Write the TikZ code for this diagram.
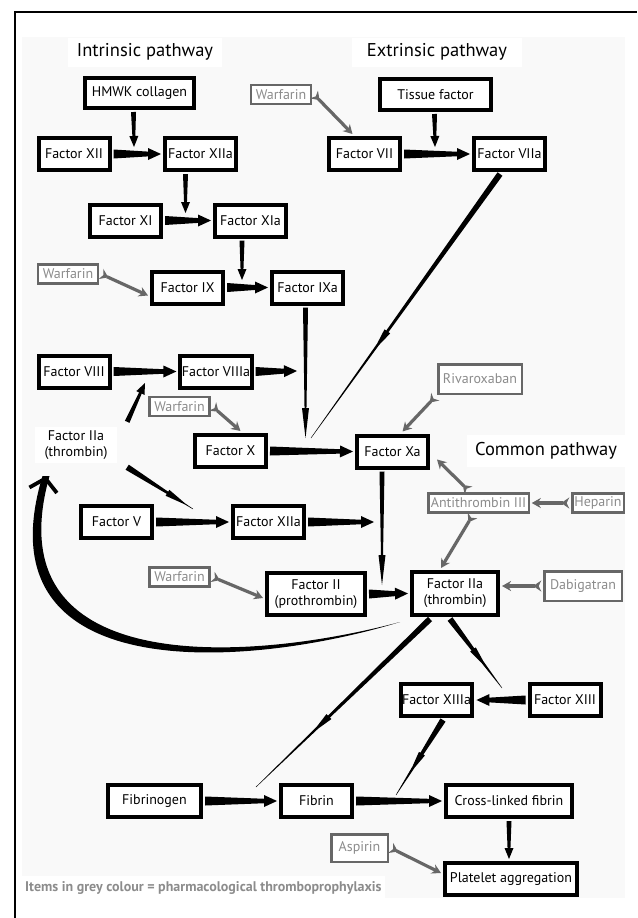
\documentclass[tikz,border=0pt]{standalone}
\usepackage{fontspec}
\setmainfont{PT Sans}
\usetikzlibrary{arrows.meta, positioning, calc, backgrounds}

\definecolor{drugline}{HTML}{676767}
\definecolor{drugtext}{HTML}{8C8C8C}
\definecolor{paper}{HTML}{F9F9F9}

\begin{document}
\begin{tikzpicture}[
    x=1pt, y=-1pt,
    box/.style={rectangle, draw, line width=4pt, fill=white, minimum width=71pt, minimum height=32pt, inner sep=1.5pt, outer sep=4pt, align=center, font=\fontsize{14pt}{16pt}\selectfont},
    drug/.style={rectangle, draw=drugline, line width=2.5pt, fill=white, text=drugtext, minimum width=60pt, minimum height=19pt, inner sep=1.2pt, outer sep=3pt, font=\fontsize{14pt}{16pt}\selectfont},
    title/.style={fill=white, font=\fontsize{18.5pt}{20pt}\selectfont, inner sep=5pt},
    taper/.style n args={5}{to path={
        let \p1=(\tikztostart), \p2=(\tikztotarget), \n1={atan2(\y2-\y1,\x2-\x1)} in
        ($(\p1)+({\n1+90}:{#1/2})$) -- ($(\p2)+({\n1+180}:{#4*0.5*(#3==1)})+({\n1+90}:{#2/2})$) -- ($(\p2)+({\n1+180}:{#4*0.5*(#3==1)})+({\n1-90}:{#2/2})$) -- ($(\p1)+({\n1-90}:{#1/2})$) -- cycle
        ($(\p1)!#3!(\p2)$) -- ($(\p1)!#3!(\p2)+({\n1+180}:{#4})+({\n1-90}:{#5/2})$) -- ($(\p1)!#3!(\p2)+({\n1+180}:{#4})+({\n1+90}:{#5/2})$) -- cycle}},
    fat/.style={taper={9pt}{4pt}{1}{13pt}{12pt}},
    slim/.style={taper={5pt}{2.5pt}{1}{11pt}{9pt}},
    longarrow/.style={taper={5pt}{1.5pt}{1}{30pt}{7pt}},
    midhead/.style={taper={6pt}{0.4pt}{#1}{24pt}{7pt}},
    inhib/.style={draw=drugline, line width=3.2pt, {Stealth[reversed, length=8pt, width=11pt]}-{Stealth[length=9pt, width=10pt]}}
]
\useasboundingbox (0,0) rectangle (637,918);

% Titles
\node[title, minimum width=154pt, minimum height=29pt] (intrinsic) at (145,52) {Intrinsic pathway};
\node[title, minimum width=170pt, minimum height=29pt] (extrinsic) at (437,52) {Extrinsic pathway};
\node[title, minimum width=158pt, minimum height=32pt] (common) at (546,451) {Common pathway};

% Intrinsic pathway
\node[box, minimum width=109pt, minimum height=30pt] (hmwk) at (139.5,93) {HMWK collagen};
\node[box] (f12) at (74,154) {Factor XII};
\node[box] (f12a) at (200.5,154) {Factor XIIa};
\node[box] (f11) at (125.5,220.5) {Factor XI};
\node[box] (f11a) at (250.5,220.5) {Factor XIa};
\node[box] (f9) at (187.5,287.5) {Factor IX};
\node[box] (f9a) at (307.5,287.5) {Factor IXa};
\node[box] (f8) at (74,371.5) {Factor VIII};
\node[box] (f8a) at (216,371.5) {Factor VIIIa};

% Extrinsic pathway
\node[box, minimum width=111pt, minimum height=31pt] (tf) at (435.5,94.5) {Tissue factor};
\node[box] (f7) at (364.5,154) {Factor VII};
\node[box] (f7a) at (509.5,154) {Factor VIIa};

% Common pathway
\node[fill=white, align=center, minimum width=82pt, minimum height=36pt, inner sep=1pt, font=\fontsize{14pt}{16pt}\selectfont] (thr1) at (76,445) {Factor IIa\\(thrombin)};
\node[box] (f10) at (230.5,451) {Factor X};
\node[box] (f10a) at (392.5,451.5) {Factor Xa};
\node[box] (f5) at (116.5,522) {Factor V};
\node[box] (f12b) at (268.5,522) {Factor XIIa};
\node[box, minimum width=98pt, minimum height=42pt] (f2) at (316,594) {Factor II\\(prothrombin)};
\node[box, minimum width=86pt, minimum height=43pt] (thr) at (455,593.5) {Factor IIa\\(thrombin)};
\node[box] (f13a) at (436.5,700) {Factor XIIIa};
\node[box] (f13) at (565,700) {Factor XIII};
\node[box, minimum width=93pt] (fgen) at (154.5,801) {Fibrinogen};
\node[box] (fib) at (316.5,801) {Fibrin};
\node[box, minimum width=126pt] (xfib) at (509,801) {Cross-linked fibrin};
\node[box, minimum width=132pt] (plt) at (511,879) {Platelet aggregation};

% Drugs (grey)
\node[drug] (warf1) at (281,94.5) {Warfarin};
\node[drug] (warf2) at (68,274) {Warfarin};
\node[drug] (warf3) at (179.5,406.5) {Warfarin};
\node[drug] (warf4) at (179.5,577) {Warfarin};
\node[drug, minimum width=83.5pt, minimum height=29.5pt] (riva) at (480,379) {Rivaroxaban};
\node[drug, minimum width=100.5pt] (at3) at (478.5,503) {Antithrombin III};
\node[drug, minimum width=51.5pt, right=37.5pt of at3] (hep) {Heparin};
\node[drug, minimum width=77.5pt, minimum height=29.5pt] (dabi) at (583,586) {Dabigatran};
\node[drug, minimum width=56.5pt, minimum height=27.5pt] (asp) at (359.5,848) {Aspirin};

\node[anchor=west, fill=white, text=drugtext, minimum height=24pt, inner sep=3pt, font=\bfseries\fontsize{14pt}{16pt}\selectfont] (legend) at (22,888) {Items in grey colour = pharmacological thromboprophylaxis};

% Free ends of arrows
\coordinate (t12) at (134,147);
\coordinate (t7) at (435,147);
\coordinate (t11) at (185.5,213);
\coordinate (t9) at (242,280);
\coordinate (t8) at (297,371);
\coordinate (t8b) at (145,383);
\coordinate (jx) at (311,438);
\coordinate (t5) at (193,509);
\coordinate (t12b) at (374,522);
\coordinate (jt) at (382,585);
\coordinate (tfib) at (256,787);
\coordinate (t13) at (502,688);
\coordinate (txf) at (396,795);
\coordinate (loopA) at (400,622);
\coordinate (loopB) at (46,476);

% Intrinsic connections
\fill ([xshift=-6pt]hmwk.south) to[slim] (t12);
\fill (f12.east) to[fat] (f12a.west);
\fill ([xshift=-15pt]f12a.south) to[slim] (t11);
\fill (f11.east) to[fat] (f11a.west);
\fill ([xshift=-8.5pt]f11a.south) to[slim] (t9);
\fill (f9.east) to[fat] (f9a.west);
\fill ([xshift=-2pt]f9a.south) to[longarrow] ([xshift=-2pt]f9a.south |- jx);
\fill (f8.east) to[fat] (f8a.west);
\fill (f8a.east) to[fat] (t8);

% Extrinsic connections
\fill ([xshift=-1pt]tf.south) to[slim] (t7);
\fill (f7.east) to[fat] (f7a.west);
\fill ([xshift=-9.5pt]f7a.south) to[midhead=0.67] (jx);

% Thrombin feedback
\fill ([shift={(10,-5)}]thr1.north east) to[slim] (t8b);
\fill ([shift={(10,4)}]thr1.south east) to[midhead=0.92] (t5);
\fill (loopA) .. controls (250,662) and (-8,680) .. ([xshift=3.5pt]loopB) -- ([xshift=-3.5pt]loopB) .. controls (-22,690) and (250,668) .. (loopA) -- cycle;
\draw[line width=3.8pt, -{Straight Barb[length=12pt, width=28pt]}] ($(loopB)+(-3,15)$) -- (loopB);

% Common connections
\fill (f10.east) to[fat] (f10a.west);
\fill ([xshift=-10.5pt]f10a.south) to[longarrow] (jt);
\fill (f5.east) to[fat] (f12b.west);
\fill (f12b.east) to[fat] (t12b);
\fill (f2.east) to[fat] (thr.west);
\fill ([xshift=-25pt]thr.south) to[midhead=0.68] (tfib);
\fill ([xshift=-5pt]thr.south) to[midhead=0.72] (t13);
\fill (f13.west) to[fat] (f13a.east);
\fill ([xshift=6.5pt]f13a.south) to[midhead=0.72] (txf);
\fill (fgen.east) to[fat] (fib.west);
\fill (fib.east) to[fat] (xfib.west);
\fill (xfib.south) to[slim] (xfib.south |- plt.north);

% Drug actions
\draw[inhib] (warf1.east) -- ([xshift=-12pt]f7.north);
\draw[inhib] (warf2.east) -- ([shift={(0,8)}]f9.west);
\draw[inhib] (warf3.east) -- ([xshift=10pt]f10.north);
\draw[inhib] (warf4.east) -- ([shift={(0,4)}]f2.west);
\draw[inhib] (riva.south west) -- ([xshift=10pt]f10a.north);
\draw[inhib] ([xshift=-10pt]at3.north) -- ([shift={(5,8)}]f10a.east);
\draw[inhib] ([xshift=-6pt]at3.south) -- ([xshift=-14pt]thr.north);
\draw[inhib] (hep.west) -- (at3.east);
\draw[inhib] (dabi.west) -- (thr.east |- dabi.west);
\draw[inhib] (asp.east) -- ([shift={(0,-6)}]plt.west);

\begin{scope}[on background layer]
    \fill[paper] (22,37) rectangle (625,898);
    \draw[line width=1.5pt] (15,918) -- (15,12) -- (637,12);
\end{scope}
\end{tikzpicture}
\end{document}
